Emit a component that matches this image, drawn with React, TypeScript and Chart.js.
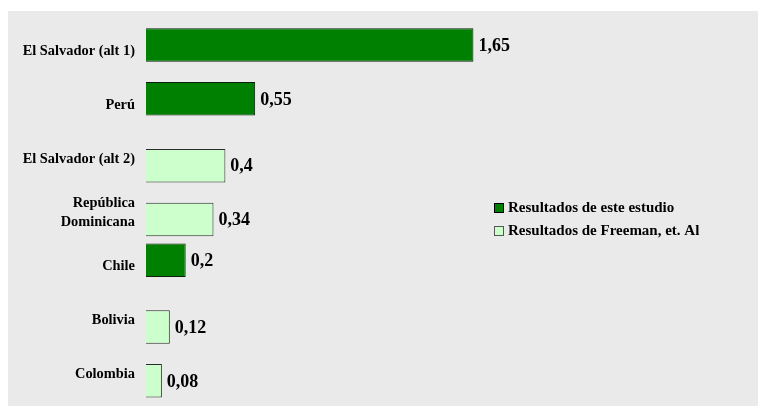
import React, { useEffect, useRef } from "react";
import { Chart, registerables } from "chart.js";

Chart.register(...registerables);

const categories: (string | string[])[] = [
  "El Salvador (alt 1)",
  "Perú",
  "El Salvador (alt 2)",
  ["República", "Dominicana"],
  "Chile",
  "Bolivia",
  "Colombia",
];
const seriesNames = ["Resultados de este estudio", "Resultados de Freeman, et. Al"];
const esteEstudio: (number | null)[] = [1.65, 0.55, null, null, 0.2, null, null];
const freeman: (number | null)[] = [null, null, 0.4, 0.34, null, 0.12, 0.08];

const FONT = '"Liberation Serif", "Times New Roman", serif';
const DARK = "#008000";
const DARK_BORDER = "#0d1f0d";
const LIGHT = "#ccffcc";
const LIGHT_BORDER = "#2a2a2a";
const BG = "#eaeaea";

export default function App() {
  const ref = useRef<HTMLCanvasElement | null>(null);
  useEffect(() => {
    if (!ref.current) return;
    const bgPlugin = {
      id: "bg",
      beforeDraw(chart: any) {
        const { ctx, width, height } = chart;
        ctx.save();
        ctx.fillStyle = BG;
        ctx.fillRect(0, 0, width, height);
        ctx.restore();
      },
    };
    const labelPlugin = {
      id: "valueLabels",
      afterDatasetsDraw(chart: any) {
        const { ctx } = chart;
        ctx.save();
        ctx.font = `bold 18px ${FONT}`;
        ctx.fillStyle = "#000";
        ctx.textAlign = "left";
        ctx.textBaseline = "middle";
        chart.data.datasets.forEach((ds: any, di: number) => {
          const meta = chart.getDatasetMeta(di);
          meta.data.forEach((el: any, i: number) => {
            const v = ds.data[i];
            if (v === null || v === undefined) return;
            ctx.fillText(String(v).replace(".", ","), el.x + 5, el.y + 1);
          });
        });
        ctx.restore();
      },
    };
    const legendPlugin = {
      id: "customLegend",
      afterDraw(chart: any) {
        const { ctx } = chart;
        const x0 = 486;
        const rows = [
          { y: 197, fill: DARK, stroke: "#000" },
          { y: 220, fill: LIGHT, stroke: "#555" },
        ];
        ctx.save();
        ctx.font = `bold 15px ${FONT}`;
        ctx.textBaseline = "middle";
        ctx.textAlign = "left";
        rows.forEach((r, i) => {
          ctx.fillStyle = r.fill;
          ctx.fillRect(x0, r.y - 5, 10, 10);
          ctx.strokeStyle = r.stroke;
          ctx.lineWidth = 1;
          ctx.strokeRect(x0 + 0.5, r.y - 4.5, 9, 9);
          ctx.fillStyle = "#000";
          ctx.fillText(seriesNames[i], x0 + 14, r.y);
        });
        ctx.restore();
      },
    };
    const chart = new Chart(ref.current, {
      type: "bar",
      data: {
        labels: categories,
        datasets: [
          {
            label: seriesNames[0],
            data: esteEstudio,
            backgroundColor: DARK,
            borderColor: DARK_BORDER,
            borderWidth: 1,
            categoryPercentage: 0.483,
            barPercentage: 2.58,
          },
          {
            label: seriesNames[1],
            data: freeman,
            backgroundColor: LIGHT,
            borderColor: LIGHT_BORDER,
            borderWidth: 1,
            categoryPercentage: 0.483,
            barPercentage: 2.58,
          },
        ],
      },
      options: {
        indexAxis: "y",
        animation: false,
        responsive: false,
        devicePixelRatio: 1,
        layout: { padding: { top: 13.65, bottom: 4.75, left: 0, right: 16.7 } },
        plugins: {
          legend: { display: false },
          tooltip: { enabled: false },
        },
        scales: {
          x: {
            display: false,
            min: 0,
            max: 3,
          },
          y: {
            grid: { display: false, drawTicks: false },
            border: { display: false },
            ticks: {
              color: "#000",
              padding: 11,
              font: { family: FONT, size: 14.4, weight: "bold", lineHeight: 1.35 },
            },
            afterFit(scale: any) {
              scale.width = 138;
              scale.paddingTop = 0;
              scale.paddingBottom = 0;
            },
          },
        },
      },
      plugins: [bgPlugin, labelPlugin, legendPlugin],
    } as any);
    return () => chart.destroy();
  }, []);
  return (
    <div style={{ position: "absolute", left: 8, top: 11, width: 750, height: 395 }}>
      <canvas ref={ref} width={750} height={395} style={{ display: "block" }} />
    </div>
  );
}
